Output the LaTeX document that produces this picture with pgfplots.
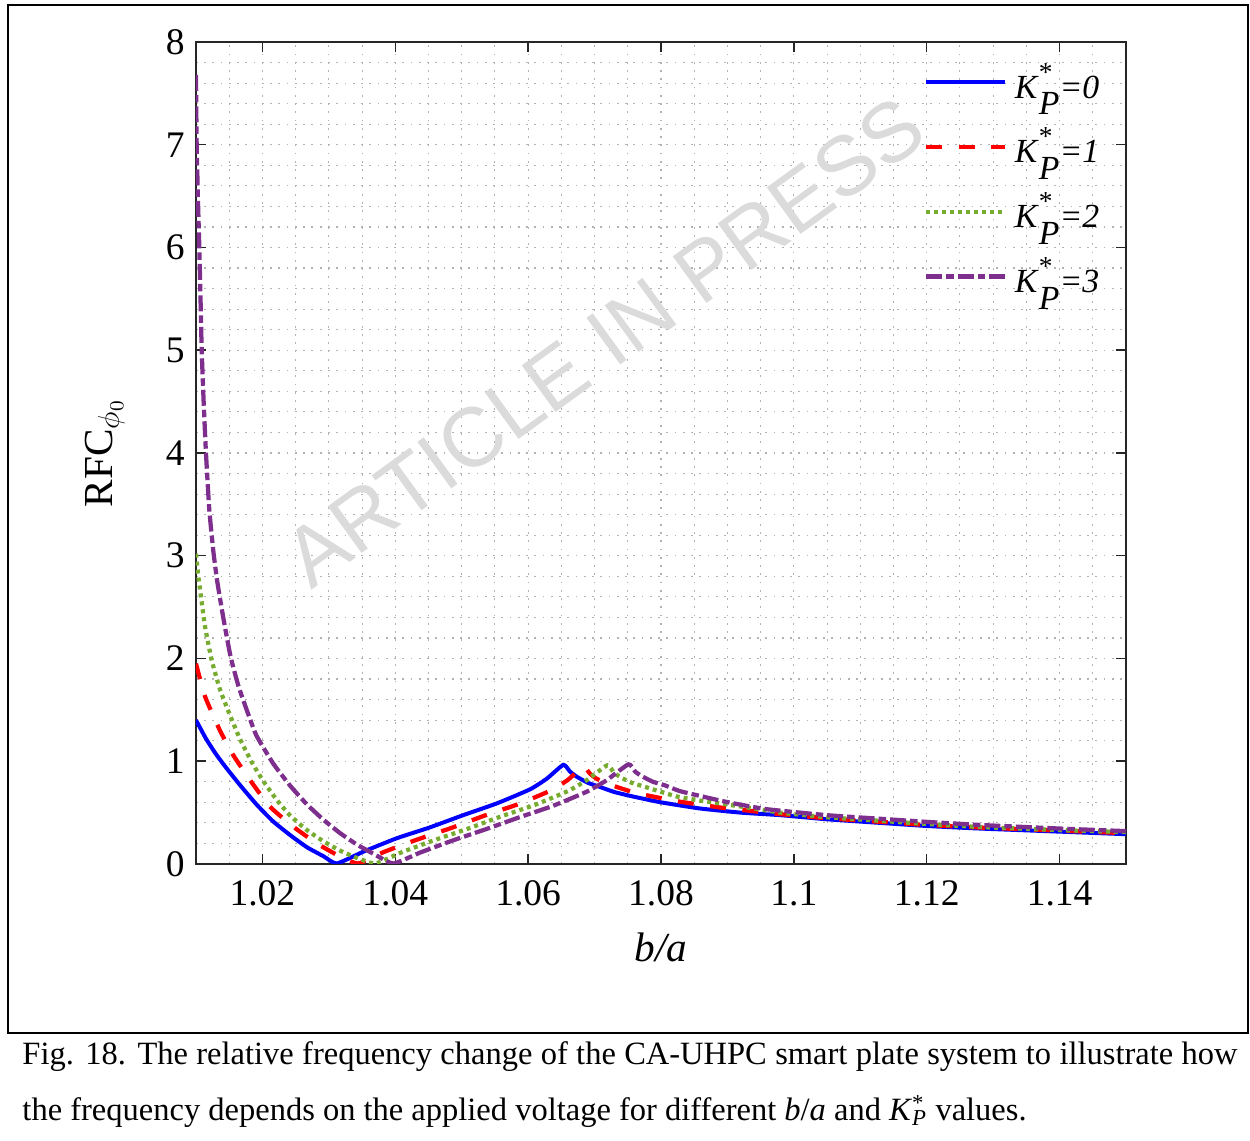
\documentclass[border=0pt]{standalone}
\usepackage{fontspec}
\setmainfont{Liberation Serif}
\newfontfamily\wmfont{Liberation Sans}
\usepackage{pgfplots}
\pgfplotsset{compat=1.18}
\definecolor{mblue}{RGB}{0,0,255}
\definecolor{mred}{RGB}{255,0,0}
\definecolor{mgreen}{RGB}{119,172,48}
\definecolor{mpurple}{RGB}{126,47,142}
\newcommand\kp[1]{\textit{K}\makebox[0pt][l]{\raisebox{0.5em}{\fontsize{11}{11}\selectfont *}}\raisebox{-0.5em}{\textit{P}}\textit{=#1}}

\pgfplotstableread{
x y
1.01000 1.40
1.01150 1.22
1.01300 1.07
1.01450 0.94
1.01660 0.77
1.01910 0.58
1.02160 0.415
1.02420 0.28
1.02670 0.163
1.02920 0.075
1.03120 0.005
1.03520 0.12
1.04020 0.25
1.04520 0.356
1.05030 0.477
1.05530 0.59
1.06030 0.727
1.06280 0.83
1.06530 0.965
1.06630 0.90
1.06730 0.85
1.06900 0.79
1.07080 0.75
1.07300 0.70
1.07590 0.655
1.08000 0.60
1.08590 0.54
1.09200 0.50
1.09800 0.475
1.10500 0.435
1.11300 0.40
1.12000 0.37
1.12800 0.345
1.14000 0.315
1.15000 0.29
}\tblue

\pgfplotstableread{
x y
1.01000 1.95
1.01136 1.63
1.01360 1.30
1.01560 1.06
1.01810 0.82
1.02110 0.56
1.02470 0.36
1.02820 0.20
1.03120 0.09
1.03440 0.005
1.03840 0.12
1.04340 0.24
1.04840 0.35
1.05340 0.47
1.05840 0.58
1.06340 0.715
1.06590 0.815
1.06830 0.945
1.06930 0.88
1.07030 0.83
1.07200 0.78
1.07380 0.74
1.07600 0.695
1.07890 0.655
1.08300 0.605
1.08890 0.55
1.09800 0.485
1.10500 0.445
1.11300 0.41
1.12000 0.38
1.12800 0.355
1.14000 0.325
1.15000 0.30
}\tred

\pgfplotstableread{
x y
1.01000 3.02
1.01035 2.80
1.01086 2.55
1.01136 2.31
1.01236 1.985
1.01360 1.70
1.01510 1.45
1.01660 1.22
1.01840 0.99
1.02010 0.81
1.02220 0.62
1.02420 0.47
1.02670 0.33
1.02920 0.22
1.03170 0.13
1.03420 0.06
1.03700 0.005
1.04100 0.115
1.04600 0.235
1.05100 0.345
1.05600 0.465
1.06100 0.575
1.06600 0.71
1.06880 0.815
1.07190 0.96
1.07290 0.89
1.07390 0.845
1.07560 0.79
1.07740 0.755
1.07960 0.71
1.08250 0.655
1.08660 0.61
1.09250 0.555
1.09800 0.50
1.10500 0.455
1.11300 0.42
1.12000 0.39
1.12800 0.36
1.14000 0.33
1.15000 0.31
}\tgreen

\pgfplotstableread{
x y
1.01000 7.68
1.01005 7.30
1.01010 7.00
1.01030 6.45
1.01050 6.00
1.01070 5.45
1.01086 5.00
1.01115 4.50
1.01150 4.00
1.01200 3.45
1.01260 3.05
1.01320 2.75
1.01410 2.40
1.01520 2.02
1.01640 1.73
1.01780 1.47
1.01910 1.25
1.02160 0.98
1.02420 0.76
1.02670 0.58
1.02920 0.43
1.03170 0.30
1.03420 0.19
1.03670 0.10
1.03970 0.005
1.04370 0.11
1.04870 0.23
1.05370 0.34
1.05870 0.455
1.06370 0.565
1.06870 0.70
1.07170 0.81
1.07510 0.97
1.07610 0.90
1.07710 0.855
1.07880 0.80
1.08060 0.765
1.08280 0.71
1.08570 0.665
1.08980 0.605
1.09570 0.535
1.10500 0.475
1.11300 0.44
1.12000 0.41
1.12800 0.38
1.14000 0.345
1.15000 0.32
}\tpurple

\begin{document}
\begin{tikzpicture}
\begin{axis}[
  scale only axis, width=372pt, height=328.8pt,
  xmin=1.01, xmax=1.15, ymin=0, ymax=8,
  xtick={1.02,1.04,1.06,1.08,1.1,1.12,1.14},
  xticklabels={1.02,1.04,1.06,1.08,1.1,1.12,1.14},
  ytick={0,1,2,3,4,5,6,7,8},
  minor xtick={1.015,1.025,1.03,1.035,1.045,1.05,1.055,1.065,1.07,1.075,1.085,1.09,1.095,1.105,1.11,1.115,1.125,1.13,1.135,1.145},
  minor ytick={0.2,0.4,0.6,0.8,1.2,1.4,1.6,1.8,2.2,2.4,2.6,2.8,3.2,3.4,3.6,3.8,4.2,4.4,4.6,4.8,5.2,5.4,5.6,5.8,6.2,6.4,6.6,6.8,7.2,7.4,7.6,7.8},
  grid=both,
  major grid style={black!30, line width=0.45pt, dash pattern=on 0.7pt off 2.6pt},
  minor grid style={black!30, line width=0.45pt, dash pattern=on 0.7pt off 2.6pt},
  tick align=inside, major tick length=4pt, minor tick length=0pt,
  axis line style={black!85, line width=0.8pt},
  tick style={black!85, line width=0.6pt},
  /pgf/number format/assume math mode=true,
  ticklabel style={font=\fontsize{15}{15}\selectfont},
  xticklabel style={yshift=-3pt},
  yticklabel style={xshift=-1pt},
  xlabel={\textit{b/a}},
  ylabel={RFC$_{\phi_0}$},
  label style={font=\fontsize{16.5}{16.5}\selectfont},
  xlabel style={at={(axis description cs:0.5,-0.102)}, anchor=center},
  ylabel style={at={(axis description cs:-0.098,0.5)}, anchor=center},
  legend style={at={(axis description cs:0.7744,0.978)}, anchor=north west, draw=none, fill=none,
    font=\fontsize{13.5}{13.5}\selectfont, row sep=3.9pt,
    nodes={text height=12pt, text depth=8pt, inner sep=1pt},
    /tikz/every odd column/.append style={column sep=2pt}},
  legend cell align=left,
  legend image code/.code={\draw[#1] (0pt,4.3pt) -- (31.6pt,4.3pt);},
]
\node[rotate=36, text=black!14, font=\wmfont\fontsize{33.5}{33.5}\selectfont] at (rel axis cs:0.439,0.635) {ARTICLE IN PRESS};
\addplot[mblue, line width=1.6pt, smooth, tension=0.3] table {\tblue};
\addlegendentry{\kp{0}}
\addplot[mred, line width=1.7pt, dash pattern=on 6.4pt off 6.6pt, smooth, tension=0.3] table {\tred};
\addlegendentry{\kp{1}}
\addplot[mgreen, line width=1.7pt, dash pattern=on 1.6pt off 1.6pt, smooth, tension=0.3] table {\tgreen};
\addlegendentry{\kp{2}}
\addplot[mpurple, line width=1.7pt, dash pattern=on 6.4pt off 1.6pt on 3pt off 1.6pt, smooth, tension=0.3] table {\tpurple};
\addlegendentry{\kp{3}}
\end{axis}
\draw[black, line width=0.8pt] (-75.2pt,-67.6pt) rectangle (420.8pt,343.6pt);
\node[anchor=base west, inner sep=0pt, font=\fontsize{13}{15}\selectfont] at (-69.6pt,-80.4pt)
  {\makebox[486pt][s]{Fig. 18. The relative frequency change of the CA-UHPC smart plate system to illustrate how}};
\node[anchor=base west, inner sep=0pt, font=\fontsize{13}{15}\selectfont] at (-69.6pt,-102.8pt)
  {the frequency depends on the applied voltage for different \textit{b}/\textit{a} and \textit{K}\makebox[0pt][l]{\textsuperscript{*}}\textsubscript{\textit{P}} values.};
\pgfresetboundingbox
\path[use as bounding box] (-78.4pt,-110.8pt) rectangle (421.6pt,345.6pt);
\end{tikzpicture}
\end{document}
